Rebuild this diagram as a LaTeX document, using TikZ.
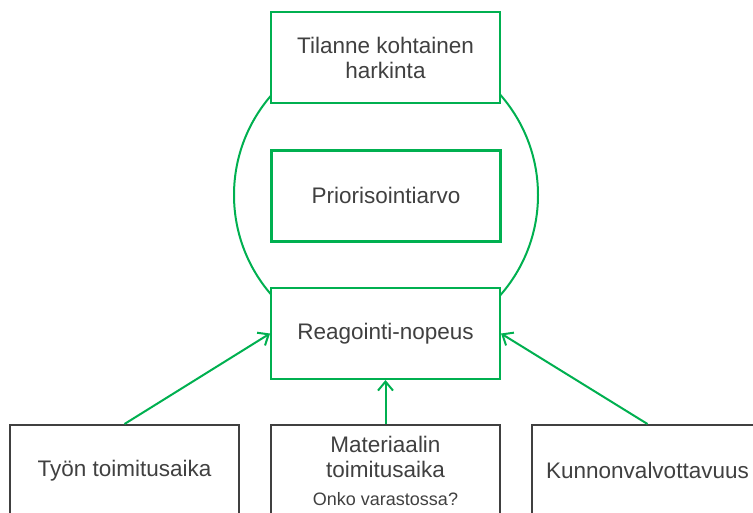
\documentclass[tikz,border=0pt]{standalone}
\usepackage{fontspec}
\setmainfont{Liberation Sans}
\usetikzlibrary{arrows.meta}

\definecolor{boxgreen}{RGB}{0,176,80}
\definecolor{textgray}{RGB}{64,64,64}

\begin{document}
\begin{tikzpicture}[x=1pt,y=-1pt,
    greenbox/.style={draw=boxgreen, line width=2pt, fill=white,
      minimum width=229pt, minimum height=91pt, inner sep=0pt,
      align=center, text=textgray, font=\fontsize{22.5}{25}\selectfont},
    graybox/.style={greenbox, draw=textgray},
    arr/.style={draw=boxgreen, line width=2pt,
      -{Straight Barb[length=9pt,width=15pt]}}]
    \fill[white] (0,0) rectangle (753,512);
    \useasboundingbox (0,0) rectangle (753,512);

    % ring behind the upper boxes
    \node [circle, draw=boxgreen, line width=2pt, inner sep=0pt,
      minimum size=304pt] (ring) at (386,195) {};

    \node [greenbox] (situ) at (385.5,57.5) {Tilanne kohtainen\\harkinta};
    \node [greenbox, line width=3pt] (prio) at (386,195.5) {Priorisointiarvo};
    \node [greenbox] (reag) at (385.5,333.5) {Reagointi-nopeus};

    \node [graybox] (tyon) at (124.5,470.5) {Työn toimitusaika};
    \node [graybox] (mater) at (385.5,470.5)
      {Materiaalin\\toimitusaika\\[3pt]{\fontsize{18}{20}\selectfont Onko varastossa?}};
    \node [graybox, minimum width=231pt] (kunto) at (647.5,470.5) {Kunnonvalvottavuus};

    \draw [arr] (tyon.north) -- (reag.west);
    \draw [arr] (mater.north) -- (reag.south);
    \draw [arr] (kunto.north) -- (reag.east);
\end{tikzpicture}
\end{document}
